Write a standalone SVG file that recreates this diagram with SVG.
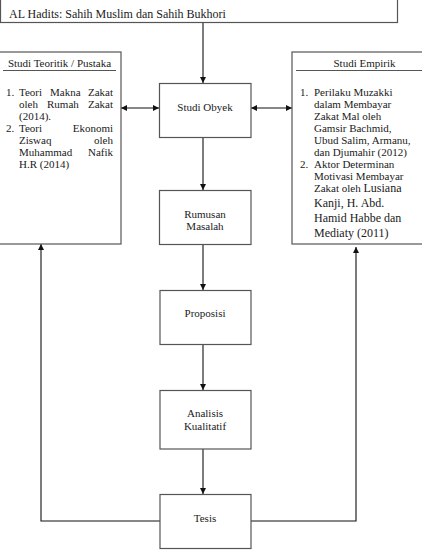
<svg xmlns="http://www.w3.org/2000/svg" width="422" height="558" viewBox="0 0 422 558">
<style>
.box{fill:#fff;stroke:#555;stroke-width:1.2}
.ln{fill:none;stroke:#111;stroke-width:1.1}
text{font-family:"Liberation Serif","Times New Roman",serif;font-size:11px;fill:#1a1a1a}
.c{text-anchor:middle}
.e{text-anchor:end}
.big{font-size:12px}
</style>
<defs>
<marker id="ah" viewBox="0 0 10 10" refX="10" refY="5" markerWidth="6" markerHeight="6" orient="auto-start-reverse" markerUnits="userSpaceOnUse">
<path d="M0,0 L10,5 L0,10 z" fill="#111"/>
</marker>
</defs>
<g id="connectors">
<path class="ln" d="M203,23 V83" marker-end="url(#ah)"/>
<path class="ln" d="M121,108 H159" marker-start="url(#ah)" marker-end="url(#ah)"/>
<path class="ln" d="M251,108 H292" marker-start="url(#ah)" marker-end="url(#ah)"/>
<path class="ln" d="M203,137 V190" marker-end="url(#ah)"/>
<path class="ln" d="M203,244 V290" marker-end="url(#ah)"/>
<path class="ln" d="M203,344 V390" marker-end="url(#ah)"/>
<path class="ln" d="M203,449 V494" marker-end="url(#ah)"/>
<path class="ln" d="M160,521 H41 V244" marker-end="url(#ah)"/>
<path class="ln" d="M251,521 H356 V247" marker-end="url(#ah)"/>
</g>
<g id="alhadits">
<rect class="box" x="0.5" y="-5" width="397" height="27.5"/>
<text x="9" y="18" style="font-size:12px">AL Hadits: Sahih Muslim dan Sahih Bukhori</text>
</g>
<g id="studi-teoritik">
<rect class="box" x="-2" y="52" width="123" height="192"/>
<text class="c" x="59.5" y="67">Studi Teoritik / Pustaka</text>
<line x1="3" y1="70.5" x2="116" y2="70.5" stroke="#555" stroke-width="1"/>
<text x="6" y="95.5">1.</text>
<text x="19" y="95.5">Teori</text><text x="50" y="95.5">Makna</text><text class="e" x="113" y="95.5">Zakat</text>
<text x="19" y="107.5">oleh</text><text x="47" y="107.5">Rumah</text><text class="e" x="113" y="107.5">Zakat</text>
<text x="19" y="119.5">(2014).</text>
<text x="6" y="131.5">2.</text>
<text x="19" y="131.5">Teori</text><text class="e" x="113" y="131.5">Ekonomi</text>
<text x="19" y="143.5">Ziswaq</text><text class="e" x="113" y="143.5">oleh</text>
<text x="19" y="155.5">Muhammad</text><text class="e" x="113" y="155.5">Nafik</text>
<text x="19" y="167.5">H.R (2014)</text>
</g>
<g id="studi-empirik">
<rect class="box" x="292" y="52" width="145" height="192"/>
<text class="c" x="364.5" y="67">Studi Empirik</text>
<line x1="296" y1="70.5" x2="433" y2="70.5" stroke="#555" stroke-width="1"/>
<text x="300" y="96">1.</text>
<text x="314" y="96">Perilaku Muzakki</text>
<text x="314" y="108">dalam Membayar</text>
<text x="314" y="120">Zakat Mal oleh</text>
<text x="314" y="132">Gamsir Bachmid,</text>
<text x="314" y="144">Ubud Salim, Armanu,</text>
<text x="314" y="156">dan Djumahir (2012)</text>
<text x="300" y="168">2.</text>
<text x="314" y="168">Aktor Determinan</text>
<text x="314" y="180">Motivasi Membayar</text>
<text x="314" y="192">Zakat oleh <tspan class="big">Lusiana</tspan></text>
<text class="big" x="314" y="207">Kanji, H. Abd.</text>
<text class="big" x="314" y="222">Hamid Habbe dan</text>
<text class="big" x="314" y="237">Mediaty (2011)</text>
</g>
<g id="studi-obyek">
<rect class="box" x="159.5" y="83.5" width="91.5" height="54"/>
<text class="c" x="205" y="110.5">Studi Obyek</text>
</g>
<g id="rumusan-masalah">
<rect class="box" x="159.5" y="190.5" width="91.5" height="54"/>
<text class="c" x="205" y="218">Rumusan</text>
<text class="c" x="205" y="230">Masalah</text>
</g>
<g id="proposisi">
<rect class="box" x="160" y="290.5" width="91" height="54"/>
<text class="c" x="205" y="317">Proposisi</text>
</g>
<g id="analisis-kualitatif">
<rect class="box" x="160" y="390.5" width="91" height="58.5"/>
<text class="c" x="205" y="417">Analisis</text>
<text class="c" x="205" y="430">Kualitatif</text>
</g>
<g id="tesis">
<rect class="box" x="160" y="494.5" width="91" height="54"/>
<text class="c" x="205" y="522">Tesis</text>
</g>
</svg>
